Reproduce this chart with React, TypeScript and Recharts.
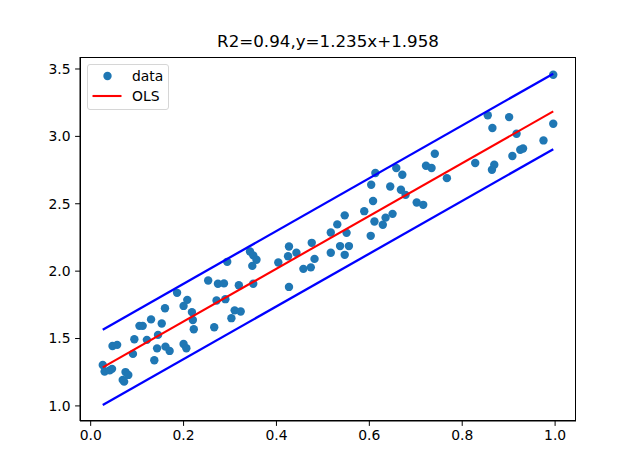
import React from 'react';
import { ScatterChart, Scatter, XAxis, YAxis } from 'recharts';

const dataX = [
  0.026, 0.030, 0.041, 0.046, 0.047, 0.057, 0.069, 0.072, 0.075, 0.081,
  0.091, 0.094, 0.105, 0.112, 0.121, 0.130, 0.137, 0.143, 0.145, 0.153,
  0.160, 0.161, 0.170, 0.186, 0.200, 0.206, 0.200, 0.208, 0.218, 0.220,
  0.222, 0.253, 0.266, 0.271, 0.274, 0.287, 0.290, 0.294, 0.303, 0.310,
  0.323, 0.319, 0.343, 0.350, 0.357, 0.348, 0.350, 0.404, 0.427, 0.443,
  0.425, 0.427, 0.458, 0.474, 0.482, 0.476, 0.517, 0.517, 0.531, 0.537,
  0.556, 0.547, 0.547, 0.551, 0.589, 0.603, 0.604, 0.608, 0.613, 0.611,
  0.629, 0.635, 0.650, 0.645, 0.658, 0.671, 0.668, 0.678, 0.702, 0.716,
  0.722, 0.734, 0.741, 0.767, 0.828, 0.855, 0.865, 0.864, 0.869, 0.901,
  0.917, 0.908, 0.925, 0.931, 0.975, 0.996, 0.996,
];
const dataY = [
  1.304, 1.255, 1.264, 1.275, 1.445, 1.453, 1.193, 1.180, 1.251, 1.230,
  1.386, 1.495, 1.594, 1.594, 1.490, 1.642, 1.339, 1.427, 1.527, 1.611,
  1.725, 1.440, 1.408, 1.839, 1.460, 1.428, 1.742, 1.787, 1.696, 1.638,
  1.569, 1.930, 1.584, 1.782, 1.906, 1.909, 1.792, 2.069, 1.651, 1.709,
  1.700, 1.895, 2.146, 2.117, 2.084, 2.039, 1.906, 2.064, 2.183, 2.136,
  2.111, 1.883, 2.017, 2.028, 2.091, 2.210, 2.136, 2.287, 2.347, 2.186,
  2.186, 2.121, 2.414, 2.284, 2.445, 2.262, 2.641, 2.520, 2.728, 2.368,
  2.344, 2.397, 2.425, 2.628, 2.765, 2.715, 2.604, 2.566, 2.509, 2.492,
  2.782, 2.765, 2.871, 2.690, 2.802, 3.157, 3.062, 2.752, 2.789, 3.143,
  3.019, 2.854, 2.901, 2.910, 2.970, 3.457, 3.094,
];

// fitted line and prediction band end points
const fitX = [0.026, 0.996];
const olsY = [1.286, 3.185];
const upperY = [1.566, 3.465];
const lowerY = [1.006, 2.905];

const xTicks = [0, 0.2, 0.4, 0.6, 0.8, 1.0];
const yTicks = [1.0, 1.5, 2.0, 2.5, 3.0, 3.5];
const title = 'R2=0.94,y=1.235x+1.958';
const legendLabels = ['data', 'OLS'];

const points = dataX.map((x, i) => ({ x, y: dataY[i] }));
const seg = (ys: number[]) => fitX.map((x, i) => ({ x, y: ys[i] }));

const FONT = '"DejaVu Sans", sans-serif';

const Dot = (props: any) => (
  <circle cx={props.cx} cy={props.cy} r={4.2} fill="#1f77b4" />
);
const NoShape = () => <g />;

export default function App() {
  return (
    <div style={{ position: 'absolute', left: 0, top: 0, width: 640, height: 473, background: '#fff' }}>
      <ScatterChart
        width={640}
        height={473}
        margin={{ top: 57, right: 64, bottom: 22, left: 20 }}
      >
        <XAxis
          type="number"
          dataKey="x"
          domain={[-0.023, 1.045]}
          ticks={xTicks}
          allowDataOverflow
          height={30}
          tickSize={4.9}
          tickMargin={4.5}
          tickLine={{ stroke: '#000', strokeWidth: 1 }}
          axisLine={{ stroke: '#000', strokeWidth: 1 }}
          tick={{ fill: '#000', fontSize: 13.9, fontFamily: FONT }}
          tickFormatter={(v: number) => v.toFixed(1)}
        />
        <YAxis
          type="number"
          dataKey="y"
          domain={[0.888, 3.589]}
          ticks={yTicks}
          allowDataOverflow
          width={60}
          tickSize={4.9}
          tickMargin={4.5}
          tickLine={{ stroke: '#000', strokeWidth: 1 }}
          axisLine={{ stroke: '#000', strokeWidth: 1 }}
          tick={{ fill: '#000', fontSize: 13.9, fontFamily: FONT }}
          tickFormatter={(v: number) => v.toFixed(1)}
        />
        <Scatter data={points} shape={Dot} isAnimationActive={false} />
        <Scatter
          data={seg(olsY)}
          line={{ stroke: '#ff0000', strokeWidth: 2.1 }}
          lineType="joint"
          shape={NoShape}
          isAnimationActive={false}
        />
        <Scatter
          data={seg(upperY)}
          line={{ stroke: '#0000ff', strokeWidth: 2.3 }}
          lineType="joint"
          shape={NoShape}
          isAnimationActive={false}
        />
        <Scatter
          data={seg(lowerY)}
          line={{ stroke: '#0000ff', strokeWidth: 2.3 }}
          lineType="joint"
          shape={NoShape}
          isAnimationActive={false}
        />
      </ScatterChart>
      {/* axes frame */}
      <div
        style={{
          position: 'absolute', left: 80, top: 57, width: 496, height: 364,
          border: '1px solid #000', boxSizing: 'border-box', pointerEvents: 'none',
        }}
      />
      {/* title */}
      <div
        style={{
          position: 'absolute', left: 80, width: 496, top: 31, textAlign: 'center',
          fontFamily: FONT, fontSize: 16.7, color: '#000', lineHeight: '20px',
        }}
      >
        {title}
      </div>
      {/* legend */}
      <div
        style={{
          position: 'absolute', left: 87, top: 64, width: 82, height: 46,
          border: '1px solid #d6d6d6', borderRadius: 3, background: 'rgba(255,255,255,0.8)',
          boxSizing: 'border-box', fontFamily: FONT, fontSize: 13.9, color: '#000',
        }}
      >
        <svg width={40} height={44} style={{ position: 'absolute', left: 0, top: 0 }}>
          <circle cx={19.5} cy={11} r={4.2} fill="#1f77b4" />
          <line x1={4.5} y1={31} x2={33.5} y2={31} stroke="#ff0000" strokeWidth={2.1} />
        </svg>
        <div style={{ position: 'absolute', left: 44, top: 2, lineHeight: '18px' }}>{legendLabels[0]}</div>
        <div style={{ position: 'absolute', left: 44, top: 22, lineHeight: '18px' }}>{legendLabels[1]}</div>
      </div>
    </div>
  );
}
